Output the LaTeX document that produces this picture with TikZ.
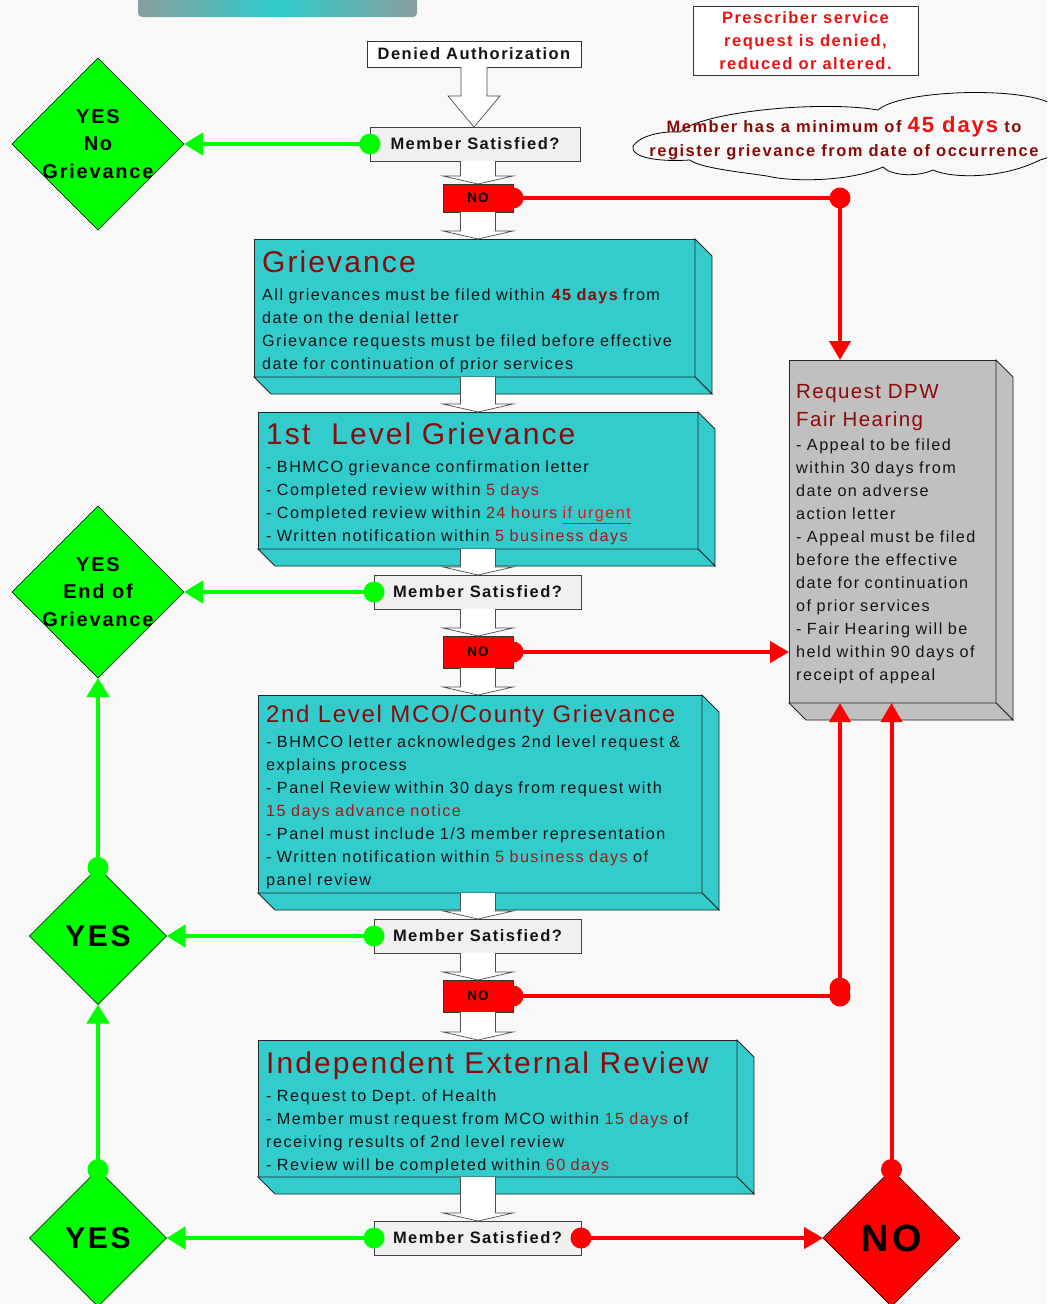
\documentclass[tikz,border=0pt]{standalone}
\usepackage{fontspec}
\setmainfont{Liberation Sans}[LetterSpace=9]
\newfontfamily\ttlfont{Liberation Sans}[LetterSpace=7]
\newfontfamily\bodyfont{Liberation Sans}[LetterSpace=9,WordSpace=1.25]
\usetikzlibrary{shapes.geometric,arrows.meta,calc}

\definecolor{paper}{HTML}{F8F8F8}
\definecolor{cubecyan}{HTML}{33CCCC}
\definecolor{fairgray}{HTML}{C0C0C0}
\definecolor{titlered}{HTML}{8B0A0A}
\definecolor{hired}{HTML}{A31818}
\definecolor{urgred}{HTML}{E8141B}
\definecolor{brightred}{HTML}{EE1111}
\definecolor{okgreen}{HTML}{00FF00}
\definecolor{nored}{HTML}{FF0000}
\definecolor{ink}{HTML}{141414}
\definecolor{msfill}{HTML}{F0F0F0}
\definecolor{barside}{HTML}{8A9E9E}
\definecolor{barmid}{HTML}{2ECCCC}

% highlighted figures inside the boxes
\newcommand\hl[1]{\textcolor{hired}{#1}}

% 3-D depth faces (right and bottom) of a box node
\newcommand\cubefaces[2]{%
  \filldraw[cubeline,fill=#2] (#1.north east) -- ++(17,17) -- ($(#1.south east)+(17,17)$) -- (#1.south east) -- cycle;
  \filldraw[cubeline,fill=#2] (#1.south west) -- ++(17,17) -- ($(#1.south east)+(17,17)$) -- (#1.south east) -- cycle;
}

% hollow block arrow: centre x, shaft half-width, head half-width, head length, from, to
\newcommand\blockarr[6]{%
  \path[blockarrow] let \p1=(#5), \p2=(#6) in
    (#1pt-#2pt,\y1) -- (#1pt-#2pt,\y2+#4pt) -- (#1pt-#3pt,\y2+#4pt) -- (#1pt,\y2)
    -- (#1pt+#3pt,\y2+#4pt) -- (#1pt+#2pt,\y2+#4pt) -- (#1pt+#2pt,\y1);
}

\tikzset{
  cubeline/.style={draw=black!85,line width=0.9},
  cubebox/.style={rectangle,draw=black!85,line width=0.9,fill=cubecyan,inner sep=0,outer sep=0,anchor=north west},
  fairbox/.style={cubebox,fill=fairgray},
  blockarrow/.style={fill=white,draw=black!70,line width=0.7},
  msbox/.style={rectangle,draw=black!75,fill=msfill,line width=0.8,inner sep=0,outer sep=0,anchor=north west,
    font=\fontsize{16.5}{20}\selectfont\bfseries,text=ink},
  nobox/.style={rectangle,draw=black!80,fill=nored,line width=0.8,inner sep=0,outer sep=0,anchor=north west,
    minimum width=70,minimum height=28,font=\fontsize{13.5}{16}\selectfont\bfseries,text=black},
  plainbox/.style={rectangle,draw=black!80,fill=white,line width=0.8,inner sep=0,outer sep=0},
  yesdiam/.style={diamond,aspect=1,draw=black,line width=0.6,fill=okgreen,inner sep=0,outer sep=0},
  nodiam/.style={yesdiam,fill=nored},
  diamtext/.style={align=center,font=\fontsize{20}{27.5}\selectfont\bfseries,text=black},
  boxtitle/.style={anchor=base west,inner sep=0,text=titlered},
  boxbody/.style={anchor=base west,inner sep=0,text width=600,align=left,
    font=\bodyfont\fontsize{16.2}{23}\selectfont\frenchspacing,text=ink},
  gline/.style={draw=okgreen,line width=4.5,-{Triangle[length=19,width=22]}},
  rline/.style={draw=nored,line width=4,-{Triangle[length=19,width=21]}},
  rplain/.style={draw=nored,line width=4},
}

\begin{document}
\begin{tikzpicture}[x=1pt,y=-1pt]
\path[use as bounding box] (0,0) rectangle (1047,1304);
\fill[paper] (0,0) rectangle (1047,1304);
\clip (0,0) rectangle (1047,1304);

% banner strip at the top edge
\begin{scope}
  \clip[rounded corners=4] (138,-8) rectangle (417,17);
  \shade[left color=barside,right color=barmid] (138,-8) rectangle (278,17);
  \shade[left color=barmid,right color=barside] (277.5,-8) rectangle (417,17);
\end{scope}

% callout cloud
\filldraw[fill=paper,draw=black,line width=0.8]
  (633,146) .. controls (640,136) and (660,131) .. (680,132)
  .. controls (700,112) and (820,100) .. (878,110)
  .. controls (900,90) and (1020,86) .. (1052,104)
  .. controls (1078,118) and (1078,150) .. (1040,160)
  .. controls (1000,180) and (950,178) .. (933,170)
  .. controls (915,178) and (890,175) .. (883,167)
  .. controls (850,182) and (790,182) .. (767,176)
  .. controls (740,172) and (700,168) .. (690,160)
  .. controls (660,162) and (630,158) .. (633,146) -- cycle;
\node[align=center,inner sep=0,font=\fontsize{16.5}{24}\selectfont\bfseries,text=titlered] (cloudtext) at (844,138)
  {Member has a minimum of {\fontsize{22}{24}\selectfont\textcolor{brightred}{45 days}} to\\
   register grievance from date of occurrence};

% prescriber note
\node[plainbox,minimum width=225,minimum height=69,align=center,
      font=\fontsize{16.5}{23}\selectfont\bfseries,text=brightred] (prescriber) at (805.5,40.5)
  {Prescriber service\\request is denied,\\reduced or altered.};

% starting box
\node[plainbox,minimum width=214,minimum height=26,font=\fontsize{16.5}{20}\selectfont\bfseries,text=ink]
  (denied) at (474,54) {Denied Authorization};

% decision boxes
\node[msbox,minimum width=210,minimum height=34] (ms1) at (370,127) {Member Satisfied?};
\node[msbox,minimum width=207,minimum height=34] (ms2) at (374,575) {Member Satisfied?};
\node[msbox,minimum width=207,minimum height=34] (ms3) at (374,919) {Member Satisfied?};
\node[msbox,minimum width=207,minimum height=34] (ms4) at (374,1221) {Member Satisfied?};

\node[nobox] (no1) at (443,184) {NO};
\node[nobox,minimum height=32] (no2) at (443,636) {NO};
\node[nobox,minimum height=32] (no3) at (443,980) {NO};

% grievance stages
\node[cubebox,minimum width=441,minimum height=138] (griev) at (254,239) {};
\cubefaces{griev}{cubecyan}
\node[boxtitle,font=\ttlfont\fontsize{30}{30}\selectfont] (grievtitle) at (262,272) {Grievance};
\node[boxbody] (grievbody) at (262,300)
  {All grievances must be filed within \textbf{\textcolor{titlered}{45 days}} from\\
   date on the denial letter\\
   Grievance requests must be filed before effective\\
   date for continuation of prior services};

\node[cubebox,minimum width=440,minimum height=137] (lvl1) at (258,412) {};
\cubefaces{lvl1}{cubecyan}
\node[boxtitle,font=\ttlfont\fontsize{30}{30}\selectfont] (lvl1title) at (266,444) {1st\ \ Level Grievance};
\node[boxbody] (lvl1body) at (266,472)
  {- BHMCO grievance confirmation letter\\
   - Completed review within \hl{5 days}\\
   - Completed review within \hl{24 hours} \textcolor{urgred}{\underline{if urgent}}\\
   - Written notification within \hl{5 business days}};

\node[cubebox,minimum width=444,minimum height=198] (lvl2) at (258,695) {};
\cubefaces{lvl2}{cubecyan}
\node[boxtitle,font=\ttlfont\fontsize{24}{24}\selectfont] (lvl2title) at (266,722) {2nd Level MCO/County Grievance};
\node[boxbody] (lvl2body) at (266,747)
  {- BHMCO letter acknowledges 2nd level request \&\\
   explains process\\
   - Panel Review within 30 days from request with\\
   \hl{15 days advance notice}\\
   - Panel must include 1/3 member representation\\
   - Written notification within \hl{5 business days} of\\
   panel review};

\node[cubebox,minimum width=479,minimum height=137] (ier) at (258,1040) {};
\cubefaces{ier}{cubecyan}
\node[boxtitle,font=\ttlfont\fontsize{30}{30}\selectfont] (iertitle) at (266,1073) {Independent External Review};
\node[boxbody] (ierbody) at (266,1101)
  {- Request to Dept. of Health\\
   - Member must request from MCO within \hl{15 days} of\\
   receiving results of 2nd level review\\
   - Review will be completed within \hl{60 days}};

% fair hearing
\node[fairbox,minimum width=207,minimum height=343] (fair) at (789,360) {};
\cubefaces{fair}{fairgray}
\node[boxtitle,text width=200,align=left,font=\ttlfont\fontsize{20.5}{28}\selectfont] (fairtitle) at (796,398)
  {Request DPW\\Fair Hearing};
\node[boxbody,text width=205] (fairbody) at (796,450)
  {- Appeal to be filed\\
   within 30 days from\\
   date on adverse\\
   action letter\\
   - Appeal must be filed\\
   before the effective\\
   date for continuation\\
   of prior services\\
   - Fair Hearing will be\\
   held within 90 days of\\
   receipt of appeal};

% outcome diamonds
\node[yesdiam,minimum width=172,minimum height=172] (dyes1) at (98,144) {};
\node[diamtext] (dyes1text) at (98,144) {YES\\No\\Grievance};
\node[yesdiam,minimum width=172,minimum height=172] (dyes2) at (98,592) {};
\node[diamtext] (dyes2text) at (98,592) {YES\\End of\\Grievance};
\node[yesdiam,minimum width=137,minimum height=137] (dyes3) at (98,936) {};
\node[font=\fontsize{30}{30}\selectfont\bfseries] (dyes3text) at (98,936) {YES};
\node[yesdiam,minimum width=137,minimum height=137] (dyes4) at (98,1238) {};
\node[font=\fontsize{30}{30}\selectfont\bfseries] (dyes4text) at (98,1238) {YES};
\node[nodiam,minimum width=137,minimum height=137] (dno) at (891.5,1238) {};
\node[font=\fontsize{38}{38}\selectfont\bfseries] (dnotext) at (891.5,1238) {NO};

% main downward flow
\blockarr{474}{13}{26}{31}{denied.south}{ms1.north}
\blockarr{478}{17.5}{35}{8}{ms1.south}{no1.north}
\blockarr{478}{17.5}{35}{8}{no1.south}{griev.north}
\blockarr{478}{17.5}{35}{8}{griev.south}{lvl1.north}
\blockarr{478}{17.5}{35}{8}{lvl1.south}{ms2.north}
\blockarr{478}{17.5}{35}{8}{ms2.south}{no2.north}
\blockarr{478}{17.5}{35}{8}{no2.south}{lvl2.north}
\blockarr{478}{17.5}{35}{8}{lvl2.south}{ms3.north}
\blockarr{478}{17.5}{35}{8}{ms3.south}{no3.north}
\blockarr{478}{17.5}{35}{8}{no3.south}{ier.north}
\blockarr{478}{17.5}{35}{8}{ier.south}{ms4.north}

% satisfied branches
\draw[gline] (ms1.west) -- (dyes1.east);
\draw[gline] (ms2.west) -- (dyes2.east);
\draw[gline] (ms3.west) -- (dyes3.east);
\draw[gline] (ms4.west) -- (dyes4.east);
\draw[gline] (dyes3.north) -- (dyes2.south);
\draw[gline] (dyes4.north) -- (dyes3.south);
\foreach \p in {ms1.west,ms2.west,ms3.west,ms4.west,dyes3.north,dyes4.north}
  \fill[okgreen] (\p) circle[radius=10.5];

% not-satisfied branches
\coordinate (j1) at (840,198);
\coordinate (j3) at (840,996);
\draw[rplain] (no1.east) -- (j1);
\draw[rline] (j1) -- (j1 |- fair.north);
\draw[rline] (no2.east) -- (no2.east -| fair.west);
\draw[rplain] (no3.east) -- (j3);
\draw[rline] (j3) -- (j3 |- fair.south);
\draw[rline] (ms4.east) -- (dno.west);
\draw[rline] (dno.north) -- (dno.north |- fair.south);
\foreach \p in {no1.east,no2.east,no3.east,ms4.east,j1,j3,dno.north}
  \fill[nored] (\p) circle[radius=10.5];
\fill[nored] ($(j3)+(0,-8)$) circle[radius=10.5];
\end{tikzpicture}
\end{document}
